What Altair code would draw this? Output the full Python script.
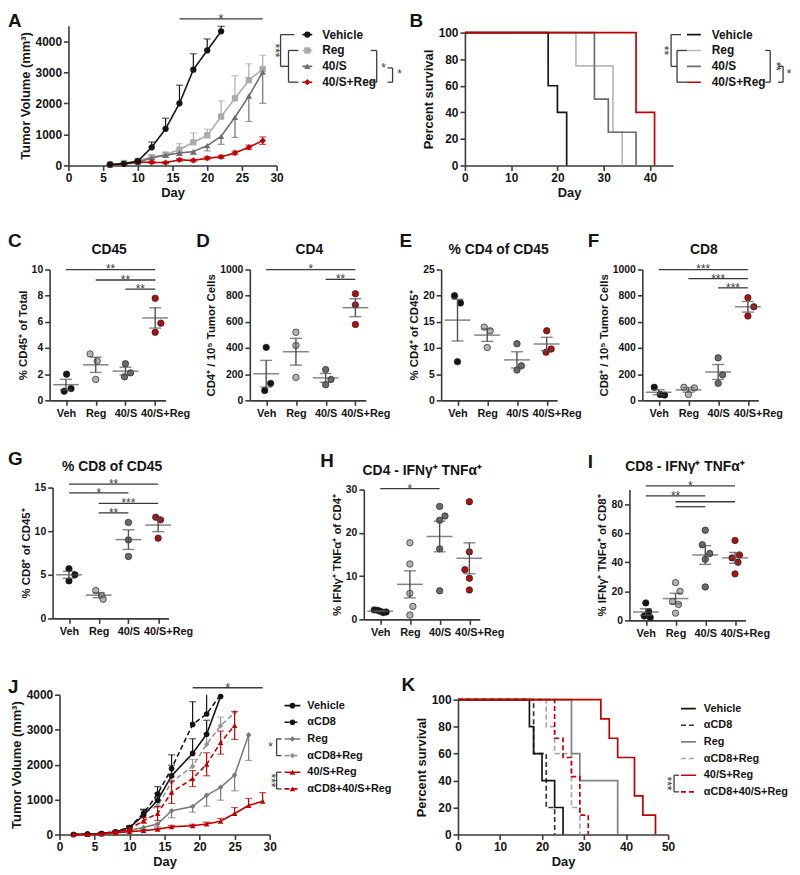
import altair as alt
import numpy as np
import pandas as pd

FONT = "Liberation Sans"
INK = "#141414"
AX = "#3a3a3a"
RED = "#c00000"
W, H = 784, 859  # single drawing area; every panel gets its own scales with pixel ranges

DASH = alt.Scale(domain=["solid", "dash"], range=[[1, 0], [5, 3]])

# ---------------- Panel A : tumour growth ----------------
A_names = ["Vehicle", "Reg", "40/S", "40/S+Reg"]
A_colors = [INK, "#ababab", "#6e6e6e", RED]
A_shapes = ["circle", "square", "triangle-up", "diamond"]
A_dashes = ["solid", "solid", "solid", "solid"]
A_days_vehicle = [6, 8, 10, 12, 14, 16, 18, 20, 22]
A_days = [6, 8, 10, 12, 14, 16, 18, 20, 22, 24, 26, 28]
A_vehicle = [32, 53, 138, 585, 1180, 2000, 3085, 3702, 4319]
A_vehicle_err = [10, 15, 30, 170, 340, 585, 510, 370, 160]
A_reg = [30, 80, 150, 266, 351, 510, 745, 968, 1574, 2160, 2745, 3106]
A_reg_err = [20, 30, 40, 60, 70, 190, 300, 200, 510, 730, 530, 440]
A_40s = [20, 50, 100, 245, 330, 400, 447, 638, 936, 1553, 2234, 3010]
A_40s_err = [10, 20, 30, 50, 60, 80, 90, 170, 256, 650, 820, 1010]
A_combo = [10, 50, 106, 100, 90, 180, 160, 234, 276, 404, 585, 798]
A_combo_err = [10, 20, 30, 30, 30, 40, 40, 50, 50, 60, 70, 120]
A_dirs = ["up", "up", "down", "both"]

# ---------------- Panel B : survival ----------------
B_names = ["Vehicle", "Reg", "40/S", "40/S+Reg"]
B_colors = [INK, "#b8b8b8", "#6b6b6b", RED]
B_dashes = ["solid", "solid", "solid", "solid"]
B_days = [[0, 18, 20, 22], [0, 24, 32, 34], [0, 28, 31, 37], [0, 37, 41]]
B_pct = [[100, 60, 40, 0], [100, 75, 25, 0], [100, 50, 25, 0], [100, 40, 0]]

# ---------------- Panels C-I : scatter ----------------
CATS = ["Veh", "Reg", "40/S", "40/S+Reg"]
CAT_COLORS = [INK, "#b4b4b4", "#6b6b6b", "#b00f0f"]

C_vals = [[2.0, 0.7, 0.9], [3.55, 3.0, 1.6], [2.8, 2.1, 1.8], [7.8, 5.9, 5.2]]
C_offs = [[0.02, -0.06, 0.17], [-0.19, 0.05, 0.0], [0.0, 0.17, -0.03], [0.0, 0.19, 0.0]]
D_vals = [[405, 130, 75], [520, 420, 175], [235, 160, 120], [815, 730, 580]]
D_offs = [[0.0, 0.15, -0.05], [0.0, 0.0, 0.0], [0.0, 0.18, 0.0], [0.0, 0.0, 0.0]]
E_vals = [[20.0, 18.6, 7.4], [14.0, 13.3, 10.1], [10.8, 6.6, 5.8], [13.3, 9.8, 9.2]]
E_offs = [[-0.1, 0.1, 0.0], [-0.1, 0.1, 0.0], [0.0, 0.15, 0.0], [0.0, 0.15, -0.02]]
F_vals = [[100, 45, 40], [100, 95, 45], [325, 195, 130], [785, 715, 645]]
F_offs = [[-0.15, 0.05, 0.2], [-0.15, 0.2, 0.0], [0.0, 0.15, 0.0], [0.0, 0.2, 0.0]]
G_vals = [[5.7, 5.0, 4.3], [3.2, 2.6, 2.2], [11.0, 9.0, 7.1], [11.6, 11.3, 9.2]]
G_offs = [[0.0, 0.2, 0.0], [-0.1, 0.1, 0.15], [0.0, 0.0, 0.0], [-0.08, 0.08, 0.0]]
H_vals = [[2.2, 1.9, 1.7, 1.6, 2.1], [17.7, 12.8, 6.0, 3.0, 1.0], [26.1, 23.9, 22.9, 16.3, 6.6], [27.2, 15.6, 11.5, 9.5, 6.8]]
H_offs = [[-0.2, 0.0, 0.2, 0.1, -0.1], [0.0, 0.0, 0.0, 0.1, 0.0], [0.0, 0.18, 0.0, 0.0, 0.0], [0.0, 0.0, -0.15, 0.0, 0.0]]
I_vals = [[12, 6, 3, 2], [26, 20, 13, 11, 5], [62, 52, 46, 42, 23], [55, 45, 43, 40, 32]]
I_offs = [[0.0, 0.1, -0.05, 0.15], [0.0, 0.15, -0.1, 0.1, 0.0], [0.0, -0.1, 0.15, 0.0, 0.0], [0.0, 0.15, -0.1, 0.1, 0.0]]

C_sig = [(0, 3, 10.0, "**"), (1, 3, 9.2, "**"), (2, 3, 8.5, "**")]
D_sig = [(0, 3, 1000, "*"), (2, 3, 925, "**")]
F_sig = [(0, 3, 1000, "***"), (1, 3, 930, "***"), (2, 3, 860, "***")]
G_sig = [(0, 3, 15.4, "**"), (0, 2, 14.4, "*"), (1, 3, 13.2, "***"), (1, 2, 12.1, "**")]
H_sig = [(0, 2, 30.2, "*")]
I_sig = [(0, 3, 92.6, "*"), (0, 2, 85.7, "**"), (1, 3, 81.6, ""), (1, 2, 78.2, "")]

# ---------------- Panel J : growth with CD8 depletion ----------------
J_names = ["Vehicle", "\u03b1CD8", "Reg", "\u03b1CD8+Reg", "40/S+Reg", "\u03b1CD8+40/S+Reg"]
J_colors = [INK, INK, "#7a7a7a", "#959595", RED, RED]
J_shapes = ["circle", "circle", "diamond", "diamond", "triangle-up", "triangle-up"]
J_dashes = ["solid", "dash", "solid", "dash", "solid", "dash"]
J_days = [2, 4, 6, 8, 10, 12, 14, 16, 19, 21, 23, 25, 27, 29]
J_vehicle = [0, 10, 30, 70, 200, 550, 980, 1680, 2320, 2870, 3950]
J_vehicle_err = [0, 0, 10, 20, 40, 150, 200, 300, 420, 400, 0]
J_cd8 = [0, 10, 30, 80, 200, 600, 1160, 1890, 3150, 3450, 4600]
J_cd8_err = [0, 0, 10, 20, 40, 120, 210, 390, 650, 800, 0]
J_reg = [0, 0, 20, 70, 120, 200, 300, 680, 800, 1120, 1350, 1700, 2850]
J_reg_err = [0, 0, 10, 20, 30, 50, 80, 200, 160, 310, 370, 450, 730]
J_cd8reg = [0, 0, 30, 80, 200, 620, 820, 1500, 1950, 2580, 3110, 3490]
J_cd8reg_err = [0, 0, 10, 20, 40, 100, 200, 150, 200, 300, 250, 0]
J_combo = [0, 0, 20, 50, 80, 110, 150, 220, 250, 300, 380, 600, 830, 950]
J_combo_err = [0, 0, 5, 10, 20, 20, 30, 40, 40, 50, 80, 170, 200, 250]
J_cd8combo = [0, 0, 20, 80, 150, 400, 600, 1210, 1600, 2010, 2630, 3120]
J_cd8combo_err = [0, 0, 10, 20, 40, 80, 200, 320, 230, 330, 330, 400]
J_dirs = ["up", "up", "down", "up", "up", "both"]

# ---------------- Panel K : survival with CD8 depletion ----------------
K_names = J_names
K_colors = [INK, "#333333", "#808080", "#a6a6a6", RED, RED]
K_dashes = ["solid", "dash", "solid", "dash", "solid", "dash"]
K_days = [[0, 17, 18, 20, 23, 25], [0, 18, 21, 23], [0, 27, 29, 38], [0, 21, 23, 27, 29],
          [0, 34, 36, 38, 42, 44, 47], [0, 23, 25, 27, 29, 31]]
K_pct = [[100, 80, 60, 40, 20, 0], [100, 60, 20, 0], [100, 60, 40, 0], [100, 80, 60, 20, 0],
         [100, 85.7, 71.4, 57.1, 28.6, 14.3, 0], [100, 71.4, 57.1, 42.9, 14.3, 0]]


# ======================= helpers =======================
def ax(values, title, orient, offset, lfs=12, tfs=13, tpad=3, **kw):
    return alt.Axis(values=values, title=title, orient=orient, offset=offset,
                    labelFont=FONT, labelFontSize=lfs, labelFontWeight="bold", labelColor=INK,
                    titleFont=FONT, titleFontSize=tfs, titleFontWeight="bold", titleColor=INK,
                    domainColor=AX, domainWidth=1.6, tickColor=AX, tickWidth=1.6, tickSize=5, grid=False,
                    labelPadding=2, labelFlush=False, titlePadding=tpad, **kw)


def scales(rect, xdom, ydom, clamp=False):
    x0, x1, y0, y1 = rect
    xs = alt.Scale(domain=xdom, range=[x0, x1], nice=False, zero=False)
    ys = alt.Scale(domain=ydom, range=[y1, y0], nice=False, zero=False, clamp=clamp)
    return xs, ys


def label_text(text, x, y, size=19, align="left", baseline="top", weight="bold"):
    return alt.Chart(pd.DataFrame({"t": [text]})).mark_text(
        text=text, align=align, baseline=baseline, font=FONT, fontSize=size, fontWeight=weight, color=INK
    ).encode(x=alt.value(x), y=alt.value(y))


def legend_layer(names, colors, shapes, dashes, y_top, y_bot, lx0, lx1, tx, brackets, marker=True, fs=12, msize=40):
    n = len(names)
    df = pd.DataFrame({"row": list(range(n)), "label": names, "col": colors, "shape": shapes, "dash": dashes})
    ys = alt.Scale(domain=[0, n - 1], range=[y_top, y_bot], nice=False, zero=False)

    def Y(f):
        return alt.Y(f, type="quantitative", scale=ys, axis=None)

    col = alt.Color("col:N", scale=None)
    base = alt.Chart(df)
    layers = [base.mark_rule(strokeWidth=1.6).encode(
        x=alt.value(lx0), x2=alt.value(lx1), y=Y("row"), color=col,
        strokeDash=alt.StrokeDash("dash:N", scale=DASH, legend=None))]
    if marker:
        layers.append(base.mark_point(filled=True, size=msize, opacity=1).encode(
            x=alt.value((lx0 + lx1) / 2), y=Y("row"), color=col, shape=alt.Shape("shape:N", scale=None)))
    layers.append(base.mark_text(align="left", baseline="middle", font=FONT, fontSize=fs, fontWeight="bold",
                                 color=INK).encode(x=alt.value(tx), y=Y("row"), text="label:N"))
    for (bx, r1, r2, t1, t2, star, sx, srow, ang) in brackets:
        bd = alt.Chart(pd.DataFrame({"r1": [r1], "r2": [r2], "sr": [srow]}))
        layers.append(bd.mark_rule(color=AX, strokeWidth=1.3).encode(x=alt.value(bx), y=Y("r1"), y2="r2:Q"))
        layers.append(bd.mark_rule(color=AX, strokeWidth=1.3).encode(x=alt.value(bx), x2=alt.value(bx + t1), y=Y("r1")))
        layers.append(bd.mark_rule(color=AX, strokeWidth=1.3).encode(x=alt.value(bx), x2=alt.value(bx + t2), y=Y("r2")))
        if star:
            layers.append(bd.mark_text(text=star, angle=ang, align="center", baseline="middle", font=FONT,
                                       fontSize=12, color=AX).encode(x=alt.value(sx), y=Y("sr")))
    return alt.layer(*layers)


def series_df(names, days, vals, errs, dirs, colors, shapes, dashes):
    rows = []
    for i in range(len(names)):
        for d, v, e in zip(days[i], vals[i], errs[i]):
            lo = v - e if dirs[i] in ("down", "both") else v
            hi = v + e if dirs[i] in ("up", "both") else v
            rows.append({"series": names[i], "day": d, "val": v, "lo": lo, "hi": hi,
                         "col": colors[i], "shape": shapes[i], "dash": dashes[i]})
    return pd.DataFrame(rows)


def growth_panel(df, order, rect, xdom, xticks, ydom, yticks, ytitle, sig, letter, lpos, legend, msize=40):
    xs, ys = scales(rect, xdom, ydom, clamp=True)
    xax = ax(xticks, "Day", "bottom", -(H - rect[3]))
    yax = ax(yticks, ytitle, "left", -rect[0], format="d")

    def X(f):
        return alt.X(f, type="quantitative", scale=xs, axis=xax)

    def Y(f):
        return alt.Y(f, type="quantitative", scale=ys, axis=yax)

    col = alt.Color("col:N", scale=None)
    top = ydom[1]
    layers = []
    for name in order:
        sub = df[df["series"] == name]
        b = alt.Chart(sub)
        layers.append(b.mark_rule(strokeWidth=1.2).encode(x=X("day"), y=Y("lo"), y2="hi:Q", color=col))
        layers.append(b.transform_filter(f"datum.hi > datum.val && datum.hi <= {top}").mark_tick(
            orient="horizontal", size=7, thickness=1.2).encode(x=X("day"), y=Y("hi"), color=col))
        layers.append(b.transform_filter("datum.lo < datum.val").mark_tick(
            orient="horizontal", size=7, thickness=1.2).encode(x=X("day"), y=Y("lo"), color=col))
        layers.append(b.mark_line(strokeWidth=1.6).encode(
            x=X("day"), y=Y("val"), color=col,
            strokeDash=alt.StrokeDash("dash:N", scale=DASH, legend=None)))
        layers.append(b.transform_filter(f"datum.val <= {top}").mark_point(filled=True, size=msize, opacity=1).encode(
            x=X("day"), y=Y("val"), color=col, shape=alt.Shape("shape:N", scale=None)))
    sg = pd.DataFrame([sig], columns=["x1", "x2", "y", "lab"])
    sg["xm"] = (sg["x1"] + sg["x2"]) / 2
    sys_ = alt.Scale(domain=ydom, range=[rect[3], rect[2]], nice=False, zero=False)
    sig_y = alt.Y("y:Q", scale=sys_, axis=None)
    sig_layer = alt.layer(
        alt.Chart(sg).mark_rule(color=AX, strokeWidth=1.4).encode(x=X("x1"), x2="x2:Q", y=sig_y),
        alt.Chart(sg).mark_text(baseline="alphabetic", dy=4, font=FONT, fontSize=13, color=AX).encode(
            x=X("xm"), y=sig_y, text="lab:N"),
    )
    main = alt.layer(*layers, label_text(letter, lpos[0], lpos[1]))
    return alt.layer(main, sig_layer, legend_layer(**legend)).resolve_scale(y="independent")


def survival_panel(names, days, pcts, colors, dashes, order, rect, xdom, xticks, letter, lpos, legend):
    xs, ys = scales(rect, xdom, [0, 100])
    xax = ax(xticks, "Day", "bottom", -(H - rect[3]))
    yax = ax([0, 20, 40, 60, 80, 100], "Percent survival", "left", -rect[0], format="d")
    layers = []
    for i in order:
        df = pd.DataFrame({"day": days[i], "pct": pcts[i], "col": colors[i], "dash": dashes[i]})
        layers.append(alt.Chart(df).mark_line(interpolate="step-after", strokeWidth=1.7).encode(
            x=alt.X("day:Q", scale=xs, axis=xax), y=alt.Y("pct:Q", scale=ys, axis=yax),
            color=alt.Color("col:N", scale=None),
            strokeDash=alt.StrokeDash("dash:N", scale=DASH, legend=None)))
    main = alt.layer(*layers, label_text(letter, lpos[0], lpos[1]))
    return alt.layer(main, legend_layer(**legend)).resolve_scale(y="independent")


def scatter_panel(letter, title, ytitle, groups, offsets, rect, ydom, yticks, sigs, lpos, tpos):
    pts, stats = [], []
    for i, (vals, offs) in enumerate(zip(groups, offsets)):
        for v, o in zip(vals, offs):
            pts.append({"xj": i + o, "val": v, "col": CAT_COLORS[i]})
        m = float(np.mean(vals))
        s = float(np.std(vals, ddof=1) / np.sqrt(len(vals)))
        stats.append({"cat": i, "mean": m, "lo": m - s, "hi": m + s})
    pdf, sdf = pd.DataFrame(pts), pd.DataFrame(stats)
    xs, ys = scales(rect, [-0.55, 3.35], ydom)
    xax = ax([0, 1, 2, 3], "", "bottom", -(H - rect[3]), lfs=11,
             labelExpr="['Veh','Reg','40/S','40/S+Reg'][datum.value]",
             labelOffset={"condition": {"test": "datum.value == 3", "value": 10}, "value": 0})
    yax = ax(yticks, ytitle, "left", -rect[0], lfs=10.5, tfs=11.5, format="d")

    def X(f):
        return alt.X(f, type="quantitative", scale=xs, axis=xax)

    def Y(f):
        return alt.Y(f, type="quantitative", scale=ys, axis=yax)

    layers = [
        alt.Chart(pdf).mark_circle(size=42, opacity=1, stroke="#202020", strokeWidth=0.7).encode(
            x=X("xj"), y=Y("val"), color=alt.Color("col:N", scale=None)),
        alt.Chart(sdf).mark_rule(color="#505050", strokeWidth=1.4).encode(x=X("cat"), y=Y("lo"), y2="hi:Q"),
        alt.Chart(sdf).mark_tick(orient="horizontal", size=26, thickness=1.5, color="#505050").encode(x=X("cat"), y=Y("mean")),
        alt.Chart(sdf).mark_tick(orient="horizontal", size=12, thickness=1.4, color="#505050").encode(x=X("cat"), y=Y("lo")),
        alt.Chart(sdf).mark_tick(orient="horizontal", size=12, thickness=1.4, color="#505050").encode(x=X("cat"), y=Y("hi")),
    ]
    if sigs:
        sg = pd.DataFrame(sigs, columns=["x1", "x2", "y", "lab"])
        sg["xm"] = (sg["x1"] + sg["x2"]) / 2
        layers.append(alt.Chart(sg).mark_rule(color=AX, strokeWidth=1.3).encode(x=X("x1"), x2="x2:Q", y=Y("y")))
        layers.append(alt.Chart(sg).mark_text(baseline="alphabetic", dy=4, font=FONT, fontSize=12, color=AX).encode(
            x=X("xm"), y=Y("y"), text="lab:N"))
    layers.append(label_text(letter, lpos[0], lpos[1]))
    layers.append(label_text(title, tpos[0], tpos[1], size=14, align="center"))
    return alt.layer(*layers)


# ======================= build panels (rect = x0, x1, y0, y1 in drawing pixels) =======================
A_df = series_df(A_names, [A_days_vehicle, A_days, A_days, A_days],
                 [A_vehicle, A_reg, A_40s, A_combo], [A_vehicle_err, A_reg_err, A_40s_err, A_combo_err],
                 A_dirs, A_colors, A_shapes, A_dashes)
A_leg = dict(names=A_names, colors=A_colors, shapes=A_shapes, dashes=A_dashes, y_top=23, y_bot=71,
             lx0=297, lx1=307, tx=317, marker=True, fs=12,
             brackets=[(275, 0, 2, 14, 8, "***", 269, 1.0, 90), (283, 1, 3, 10, 10, "", 0, 0, 0),
                       (372, 1, 3, -6, -6, "*", 379, 2.1, 0), (388, 2.1, 3, -5, -5, "*", 395, 2.5, 0)])
panelA = growth_panel(A_df, ["Reg", "40/S", "40/S+Reg", "Vehicle"], (61, 271, 14, 155), [0, 30],
                      [0, 5, 10, 15, 20, 25, 30], [0, 4500], [0, 1000, 2000, 3000, 4000],
                      "Tumor Volume (mm\u00b3)", (16, 28, 4720, "*"), "A", (0, 0), A_leg)

B_leg = dict(names=B_names, colors=B_colors, shapes=["circle"] * 4, dashes=B_dashes, y_top=23, y_bot=71,
             lx0=685, lx1=699, tx=710, marker=False, fs=12,
             brackets=[(669, 0, 2, 10, 6, "**", 662, 1.0, 90), (675, 1, 3, 10, 10, "", 0, 0, 0),
                       (769, 1, 3, -5, -5, "**", 775, 2.0, 90), (782, 2, 3, -5, -5, "*", 788, 2.5, 0)])
panelB = survival_panel(B_names, B_days, B_pct, B_colors, B_dashes, [1, 2, 0, 3], (461, 671, 21, 155),
                        [0, 45], [0, 10, 20, 30, 40], "B", (405, 0), B_leg)

panelC = scatter_panel("C", "CD45", "% CD45\u207a of Total", C_vals, C_offs, (42, 159, 260, 392), [0, 10],
                       [0, 2, 4, 6, 8, 10], C_sig, (0, 222), (102, 233))
panelD = scatter_panel("D", "CD4", "CD4\u207a / 10\u2075 Tumor Cells", D_vals, D_offs, (244, 361, 260, 392),
                       [0, 1000], [0, 200, 400, 600, 800, 1000], D_sig, (190, 222), (304, 233))
panelE = scatter_panel("E", "% CD4 of CD45", "% CD4\u207a of CD45\u207a", E_vals, E_offs, (437, 554, 260, 392),
                       [0, 25], [0, 5, 10, 15, 20, 25], [], (395, 222), (495, 233))
panelF = scatter_panel("F", "CD8", "CD8\u207a / 10\u2075 Tumor Cells", F_vals, F_offs, (640, 757, 260, 392),
                       [0, 1000], [0, 200, 400, 600, 800, 1000], F_sig, (585, 222), (702, 233))
panelG = scatter_panel("G", "% CD8 of CD45", "% CD8\u207a of CD45\u207a", G_vals, G_offs, (45, 162, 480, 612),
                       [0, 15], [0, 5, 10, 15], G_sig, (0, 442), (105, 452))
panelH = scatter_panel("H", "CD4 - IFN\u03b3\u207a TNF\u03b1\u207a", "% IFN\u03b3\u207a TNF\u03b1\u207a of CD4\u207a",
                       H_vals, H_offs, (359, 476, 482, 613), [0, 30], [0, 10, 20, 30], H_sig, (315, 444), (418, 456))
panelI = scatter_panel("I", "CD8 - IFN\u03b3\u207a TNF\u03b1\u207a", "% IFN\u03b3\u207a TNF\u03b1\u207a of CD8\u207a",
                       I_vals, I_offs, (627, 744, 482, 614), [0, 90], [0, 20, 40, 60, 80], I_sig, (585, 445), (683, 452))

J_df = series_df(J_names, [J_days[:11], J_days[:11], J_days[:13], J_days[:12], J_days, J_days[:12]],
                 [J_vehicle, J_cd8, J_reg, J_cd8reg, J_combo, J_cd8combo],
                 [J_vehicle_err, J_cd8_err, J_reg_err, J_cd8reg_err, J_combo_err, J_cd8combo_err],
                 J_dirs, J_colors, J_shapes, J_dashes)
J_leg = dict(names=J_names, colors=J_colors, shapes=J_shapes, dashes=J_dashes, y_top=700, y_bot=784,
             lx0=279, lx1=295, tx=302, marker=True, fs=11, msize=32,
             brackets=[(271, 2, 3, 5, 5, "*", 265, 2.5, 0), (271, 4, 5, 5, 5, "***", 265, 4.5, 90)])
panelJ = growth_panel(J_df, ["\u03b1CD8+Reg", "Reg", "\u03b1CD8", "Vehicle", "\u03b1CD8+40/S+Reg", "40/S+Reg"],
                      (52, 264, 689, 830), [0, 30], [0, 5, 10, 15, 20, 25, 30], [0, 4000],
                      [0, 1000, 2000, 3000, 4000], "Tumor Volume (mm\u00b3)", (19, 29, 4200, "*"), "J", (0, 672),
                      J_leg, msize=32)

K_leg = dict(names=K_names, colors=K_colors, shapes=["circle"] * 6, dashes=K_dashes, y_top=703, y_bot=787,
             lx0=679, lx1=694, tx=702, marker=False, fs=11,
             brackets=[(672, 4, 5, 5, 5, "***", 665, 4.5, 90)])
panelK = survival_panel(K_names, K_days, K_pct, K_colors, K_dashes, [3, 2, 1, 0, 5, 4], (454, 666, 694, 830),
                        [0, 50], [0, 10, 20, 30, 40, 50], "K", (397, 670), K_leg)

chart = (
    alt.layer(panelA, panelB, panelC, panelD, panelE, panelF, panelG, panelH, panelI, panelJ, panelK)
    .resolve_scale(x="independent", y="independent")
    .properties(width=W, height=H, padding=0)
    .configure(font=FONT)
    .configure_view(stroke="transparent")
)
chart.save("out.html", embed_options={"renderer": "svg", "actions": False})
